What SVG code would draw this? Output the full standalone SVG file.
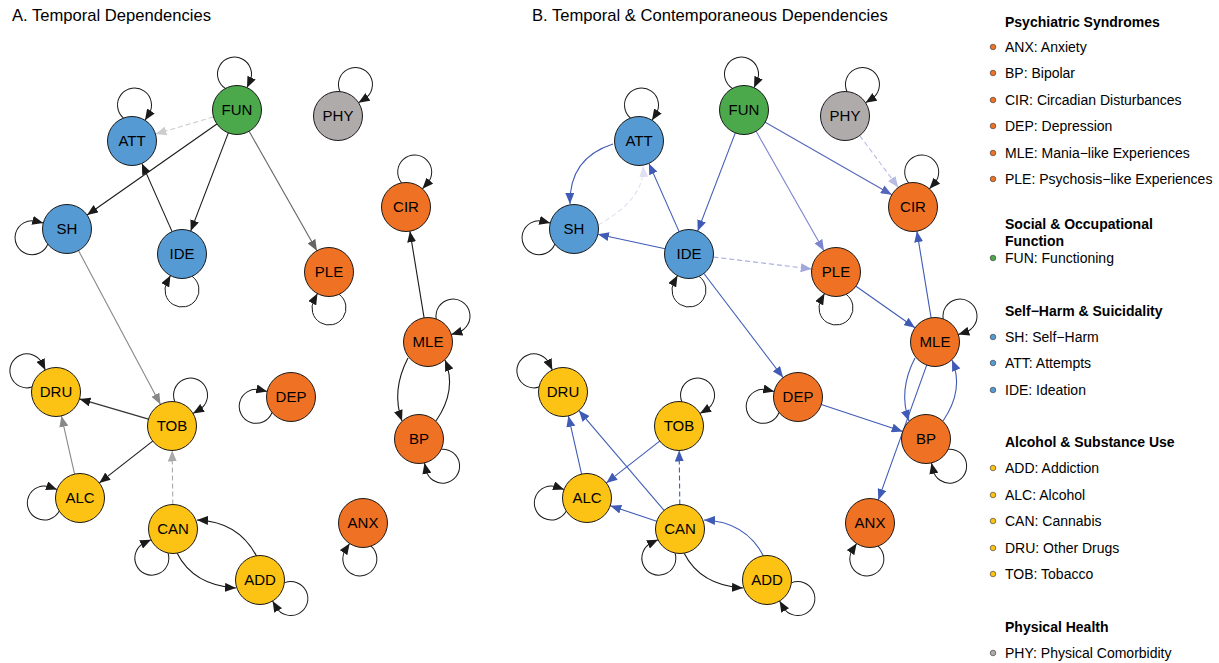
<svg xmlns="http://www.w3.org/2000/svg" width="1219" height="663" viewBox="0 0 1219 663">
<style>
text{font-family:"Liberation Sans",Arial,Helvetica,sans-serif;fill:#000}
.title{font-size:16.6px}
.node circle{stroke:#1a1a1a;stroke-width:1}
.node text{font-size:15px;text-anchor:middle}
.e{fill:none;stroke-width:1.1}
.k{stroke:#1a1a1a;marker-end:url(#mk)}
.k3{stroke:#333;marker-end:url(#mk)}
.g6{stroke:#666;marker-end:url(#m6)}
.g8{stroke:#888;marker-end:url(#m8)}
.ga{stroke:#aaa;marker-end:url(#ma);stroke-dasharray:5,3}
.gc{stroke:#ccc;marker-end:url(#mc);stroke-dasharray:5,3}
.b{stroke:#3f5bb5;marker-end:url(#mb)}
.bd{stroke:#3f5bb5;marker-end:url(#mb);stroke-dasharray:5,3}
.b2{stroke:#5566bb;marker-end:url(#mb2)}
.b3{stroke:#7b85cc;marker-end:url(#mb3)}
.l1{stroke:#a3a8dc;marker-end:url(#ml1);stroke-dasharray:5,3}
.l2{stroke:#b9bce2;marker-end:url(#ml2);stroke-dasharray:5,3}
.l3{stroke:#e0e0f2;marker-end:url(#ml3);stroke-dasharray:5,3}
.lp{fill:none;stroke:#1a1a1a;stroke-width:1;marker-end:url(#mk)}
.blue{fill:#559ad3}.green{fill:#4ba84b}.grey{fill:#b0abab}.orange{fill:#ee7124}.yellow{fill:#fcc214}
.lh{font-size:14px;font-weight:bold}
.li{font-size:14px}
.bul{stroke:#333;stroke-width:0.6}
</style>
<defs>
<marker id="mk" markerUnits="userSpaceOnUse" markerWidth="11" markerHeight="9" refX="11" refY="4.5" orient="auto"><path d="M0,0L11,4.5L0,9z" fill="#1a1a1a"/></marker>
<marker id="m6" markerUnits="userSpaceOnUse" markerWidth="11" markerHeight="9" refX="11" refY="4.5" orient="auto"><path d="M0,0L11,4.5L0,9z" fill="#666"/></marker>
<marker id="m8" markerUnits="userSpaceOnUse" markerWidth="11" markerHeight="9" refX="11" refY="4.5" orient="auto"><path d="M0,0L11,4.5L0,9z" fill="#888"/></marker>
<marker id="ma" markerUnits="userSpaceOnUse" markerWidth="11" markerHeight="9" refX="11" refY="4.5" orient="auto"><path d="M0,0L11,4.5L0,9z" fill="#aaa"/></marker>
<marker id="mc" markerUnits="userSpaceOnUse" markerWidth="11" markerHeight="9" refX="11" refY="4.5" orient="auto"><path d="M0,0L11,4.5L0,9z" fill="#ccc"/></marker>
<marker id="mb" markerUnits="userSpaceOnUse" markerWidth="11" markerHeight="9" refX="11" refY="4.5" orient="auto"><path d="M0,0L11,4.5L0,9z" fill="#3f5bb5"/></marker>
<marker id="mb2" markerUnits="userSpaceOnUse" markerWidth="11" markerHeight="9" refX="11" refY="4.5" orient="auto"><path d="M0,0L11,4.5L0,9z" fill="#5566bb"/></marker>
<marker id="mb3" markerUnits="userSpaceOnUse" markerWidth="11" markerHeight="9" refX="11" refY="4.5" orient="auto"><path d="M0,0L11,4.5L0,9z" fill="#7b85cc"/></marker>
<marker id="ml1" markerUnits="userSpaceOnUse" markerWidth="11" markerHeight="9" refX="11" refY="4.5" orient="auto"><path d="M0,0L11,4.5L0,9z" fill="#a3a8dc"/></marker>
<marker id="ml2" markerUnits="userSpaceOnUse" markerWidth="11" markerHeight="9" refX="11" refY="4.5" orient="auto"><path d="M0,0L11,4.5L0,9z" fill="#b9bce2"/></marker>
<marker id="ml3" markerUnits="userSpaceOnUse" markerWidth="11" markerHeight="9" refX="11" refY="4.5" orient="auto"><path d="M0,0L11,4.5L0,9z" fill="#e0e0f2"/></marker>
<path id="loop" class="lp" d="M-10.09,-22.32A17,17 0 1 1 14.93,-27.86L11.53,-21.62"/>
</defs>
<rect width="1219" height="663" fill="#fff"/>
<text class="title" x="12" y="21">A. Temporal Dependencies</text>
<text class="title" x="532" y="21">B. Temporal &amp; Contemporaneous Dependencies</text>

<g id="panelA">
<g id="A-connectors">
<path class="e gc" d="M213.5,116.9L155.5,134.1"/>
<path class="e k" d="M216.9,124L87.1,215"/>
<path class="e k" d="M228.3,132.9L190.7,231.1"/>
<path class="e g6" d="M249.1,131.3L316.9,250.7"/>
<path class="e k" d="M172.1,231.6L141.9,163.4"/>
<path class="e g8" d="M78.5,250.6L160.5,404.4"/>
<path class="e k3" d="M148.5,419.1L79.5,398.9"/>
<path class="e k" d="M152.7,441.1L99.3,482.9"/>
<path class="e g8" d="M74.6,474.1L61.4,415.9"/>
<path class="e ga" d="M172.8,504.5L172.2,450.5"/>
<path class="e k" d="M177,553Q193.5,585.5 236,588"/>
<path class="e k" d="M257,557Q239,521.5 197,520"/>
<path class="e k" d="M424.1,317.8L409.9,231.2"/>
<path class="e k" d="M408,358Q391,390.5 402,421"/>
<path class="e k" d="M436,421Q457.5,389.5 445,360"/>
<use href="#loop" transform="translate(237,110) rotate(-4)"/>
<use href="#loop" transform="translate(132,141) rotate(4)"/>
<use href="#loop" transform="translate(338,116) rotate(29)"/>
<use href="#loop" transform="translate(67,229) rotate(256)"/>
<use href="#loop" transform="translate(182,254) rotate(180)"/>
<use href="#loop" transform="translate(329,272) rotate(180)"/>
<use href="#loop" transform="translate(406,207) rotate(14)"/>
<use href="#loop" transform="translate(428,342) rotate(44)"/>
<use href="#loop" transform="translate(419,439) rotate(139)"/>
<use href="#loop" transform="translate(56,392) rotate(-54)"/>
<use href="#loop" transform="translate(172,426) rotate(31)"/>
<use href="#loop" transform="translate(80,498) rotate(262)"/>
<use href="#loop" transform="translate(173,529) rotate(216)"/>
<use href="#loop" transform="translate(260,580) rotate(121)"/>
<use href="#loop" transform="translate(291,397) rotate(255)"/>
<use href="#loop" transform="translate(363,523) rotate(185)"/>
</g>
<g id="A-FUN" class="node"><circle class="green" cx="237" cy="110" r="24.5"/><text x="237" y="115.3">FUN</text></g>
<g id="A-ATT" class="node"><circle class="blue" cx="132" cy="141" r="24.5"/><text x="132" y="146.3">ATT</text></g>
<g id="A-PHY" class="node"><circle class="grey" cx="338" cy="116" r="24.5"/><text x="338" y="121.3">PHY</text></g>
<g id="A-SH" class="node"><circle class="blue" cx="67" cy="229" r="24.5"/><text x="67" y="234.3">SH</text></g>
<g id="A-IDE" class="node"><circle class="blue" cx="182" cy="254" r="24.5"/><text x="182" y="259.3">IDE</text></g>
<g id="A-PLE" class="node"><circle class="orange" cx="329" cy="272" r="24.5"/><text x="329" y="277.3">PLE</text></g>
<g id="A-CIR" class="node"><circle class="orange" cx="406" cy="207" r="24.5"/><text x="406" y="212.3">CIR</text></g>
<g id="A-MLE" class="node"><circle class="orange" cx="428" cy="342" r="24.5"/><text x="428" y="347.3">MLE</text></g>
<g id="A-BP" class="node"><circle class="orange" cx="419" cy="439" r="24.5"/><text x="419" y="444.3">BP</text></g>
<g id="A-DRU" class="node"><circle class="yellow" cx="56" cy="392" r="24.5"/><text x="56" y="397.3">DRU</text></g>
<g id="A-TOB" class="node"><circle class="yellow" cx="172" cy="426" r="24.5"/><text x="172" y="431.3">TOB</text></g>
<g id="A-DEP" class="node"><circle class="orange" cx="291" cy="397" r="24.5"/><text x="291" y="402.3">DEP</text></g>
<g id="A-ALC" class="node"><circle class="yellow" cx="80" cy="498" r="24.5"/><text x="80" y="503.3">ALC</text></g>
<g id="A-CAN" class="node"><circle class="yellow" cx="173" cy="529" r="24.5"/><text x="173" y="534.3">CAN</text></g>
<g id="A-ADD" class="node"><circle class="yellow" cx="260" cy="580" r="24.5"/><text x="260" y="585.3">ADD</text></g>
<g id="A-ANX" class="node"><circle class="orange" cx="363" cy="523" r="24.5"/><text x="363" y="528.3">ANX</text></g>
</g>

<g id="panelB" transform="translate(507,0)">
<g id="B-connectors">
<path class="e b" d="M106,144Q62,158 63,204"/>
<path class="e l3" d="M91,225Q138.5,198.5 136,166"/>
<path class="e b" d="M172.1,231.6L141.9,163.4"/>
<path class="e b" d="M158.1,248.8L90.9,234.2"/>
<path class="e b" d="M228.3,132.9L190.7,231.1"/>
<path class="e b3" d="M249.1,131.3L316.9,250.7"/>
<path class="e b2" d="M258.2,122.2L384.8,194.8"/>
<path class="e l2" d="M352.7,135.6L391.3,187.4"/>
<path class="e l1" d="M206.3,257L304.7,269"/>
<path class="e b" d="M196.9,273.5L276.1,377.5"/>
<path class="e b" d="M349,286.2L408,327.8"/>
<path class="e b" d="M424.1,317.8L409.9,231.2"/>
<path class="e b" d="M408,358Q391,390.5 402,421"/>
<path class="e b" d="M436,421Q457.5,389.5 445,360"/>
<path class="e b" d="M419.7,365.1L371.3,499.9"/>
<path class="e b" d="M314.3,404.6L395.7,431.4"/>
<path class="e b" d="M152.7,441.1L99.3,482.9"/>
<path class="e b" d="M74.6,474.1L61.4,415.9"/>
<path class="e b" d="M157.1,510.4L71.9,410.6"/>
<path class="e b" d="M149.7,521.3L103.3,505.7"/>
<path class="e bd" d="M172.8,504.5L172.2,450.5"/>
<path class="e b" d="M257,557Q239,521.5 197,520"/>
<path class="e k" d="M177,553Q193.5,585.5 236,588"/>
<use href="#loop" transform="translate(237,110) rotate(-4)"/>
<use href="#loop" transform="translate(132,141) rotate(4)"/>
<use href="#loop" transform="translate(338,116) rotate(29)"/>
<use href="#loop" transform="translate(67,229) rotate(256)"/>
<use href="#loop" transform="translate(182,254) rotate(180)"/>
<use href="#loop" transform="translate(329,272) rotate(180)"/>
<use href="#loop" transform="translate(406,207) rotate(14)"/>
<use href="#loop" transform="translate(428,342) rotate(44)"/>
<use href="#loop" transform="translate(419,439) rotate(139)"/>
<use href="#loop" transform="translate(56,392) rotate(-54)"/>
<use href="#loop" transform="translate(172,426) rotate(31)"/>
<use href="#loop" transform="translate(80,498) rotate(262)"/>
<use href="#loop" transform="translate(173,529) rotate(216)"/>
<use href="#loop" transform="translate(260,580) rotate(121)"/>
<use href="#loop" transform="translate(291,397) rotate(255)"/>
<use href="#loop" transform="translate(363,523) rotate(185)"/>
</g>
<g id="B-FUN" class="node"><circle class="green" cx="237" cy="110" r="24.5"/><text x="237" y="115.3">FUN</text></g>
<g id="B-ATT" class="node"><circle class="blue" cx="132" cy="141" r="24.5"/><text x="132" y="146.3">ATT</text></g>
<g id="B-PHY" class="node"><circle class="grey" cx="338" cy="116" r="24.5"/><text x="338" y="121.3">PHY</text></g>
<g id="B-SH" class="node"><circle class="blue" cx="67" cy="229" r="24.5"/><text x="67" y="234.3">SH</text></g>
<g id="B-IDE" class="node"><circle class="blue" cx="182" cy="254" r="24.5"/><text x="182" y="259.3">IDE</text></g>
<g id="B-PLE" class="node"><circle class="orange" cx="329" cy="272" r="24.5"/><text x="329" y="277.3">PLE</text></g>
<g id="B-CIR" class="node"><circle class="orange" cx="406" cy="207" r="24.5"/><text x="406" y="212.3">CIR</text></g>
<g id="B-MLE" class="node"><circle class="orange" cx="428" cy="342" r="24.5"/><text x="428" y="347.3">MLE</text></g>
<g id="B-BP" class="node"><circle class="orange" cx="419" cy="439" r="24.5"/><text x="419" y="444.3">BP</text></g>
<g id="B-DRU" class="node"><circle class="yellow" cx="56" cy="392" r="24.5"/><text x="56" y="397.3">DRU</text></g>
<g id="B-TOB" class="node"><circle class="yellow" cx="172" cy="426" r="24.5"/><text x="172" y="431.3">TOB</text></g>
<g id="B-DEP" class="node"><circle class="orange" cx="291" cy="397" r="24.5"/><text x="291" y="402.3">DEP</text></g>
<g id="B-ALC" class="node"><circle class="yellow" cx="80" cy="498" r="24.5"/><text x="80" y="503.3">ALC</text></g>
<g id="B-CAN" class="node"><circle class="yellow" cx="173" cy="529" r="24.5"/><text x="173" y="534.3">CAN</text></g>
<g id="B-ADD" class="node"><circle class="yellow" cx="260" cy="580" r="24.5"/><text x="260" y="585.3">ADD</text></g>
<g id="B-ANX" class="node"><circle class="orange" cx="363" cy="523" r="24.5"/><text x="363" y="528.3">ANX</text></g>
</g>

<g id="legend">
<text class="lh" x="1005" y="27">Psychiatric Syndromes</text>
<circle class="bul orange" cx="993" cy="47" r="2.8"/><text class="li" x="1005" y="52">ANX: Anxiety</text>
<circle class="bul orange" cx="993" cy="73" r="2.8"/><text class="li" x="1005" y="78">BP: Bipolar</text>
<circle class="bul orange" cx="993" cy="100" r="2.8"/><text class="li" x="1005" y="105">CIR: Circadian Disturbances</text>
<circle class="bul orange" cx="993" cy="126" r="2.8"/><text class="li" x="1005" y="131">DEP: Depression</text>
<circle class="bul orange" cx="993" cy="153" r="2.8"/><text class="li" x="1005" y="158">MLE: Mania−like Experiences</text>
<circle class="bul orange" cx="993" cy="179" r="2.8"/><text class="li" x="1005" y="184">PLE: Psychosis−like Experiences</text>
<text class="lh" x="1005" y="229">Social &amp; Occupational</text>
<text class="lh" x="1005" y="246">Function</text>
<circle class="bul green" cx="993" cy="258" r="2.8"/><text class="li" x="1005" y="263">FUN: Functioning</text>
<text class="lh" x="1005" y="316">Self−Harm &amp; Suicidality</text>
<circle class="bul blue" cx="993" cy="337" r="2.8"/><text class="li" x="1005" y="342">SH: Self−Harm</text>
<circle class="bul blue" cx="993" cy="363" r="2.8"/><text class="li" x="1005" y="368">ATT: Attempts</text>
<circle class="bul blue" cx="993" cy="390" r="2.8"/><text class="li" x="1005" y="395">IDE: Ideation</text>
<text class="lh" x="1005" y="447">Alcohol &amp; Substance Use</text>
<circle class="bul yellow" cx="993" cy="468" r="2.8"/><text class="li" x="1005" y="473">ADD: Addiction</text>
<circle class="bul yellow" cx="993" cy="495" r="2.8"/><text class="li" x="1005" y="500">ALC: Alcohol</text>
<circle class="bul yellow" cx="993" cy="521" r="2.8"/><text class="li" x="1005" y="526">CAN: Cannabis</text>
<circle class="bul yellow" cx="993" cy="548" r="2.8"/><text class="li" x="1005" y="553">DRU: Other Drugs</text>
<circle class="bul yellow" cx="993" cy="574" r="2.8"/><text class="li" x="1005" y="579">TOB: Tobacco</text>
<text class="lh" x="1005" y="632">Physical Health</text>
<circle class="bul grey" cx="993" cy="653" r="2.8"/><text class="li" x="1005" y="658">PHY: Physical Comorbidity</text>
</g>
</svg>
